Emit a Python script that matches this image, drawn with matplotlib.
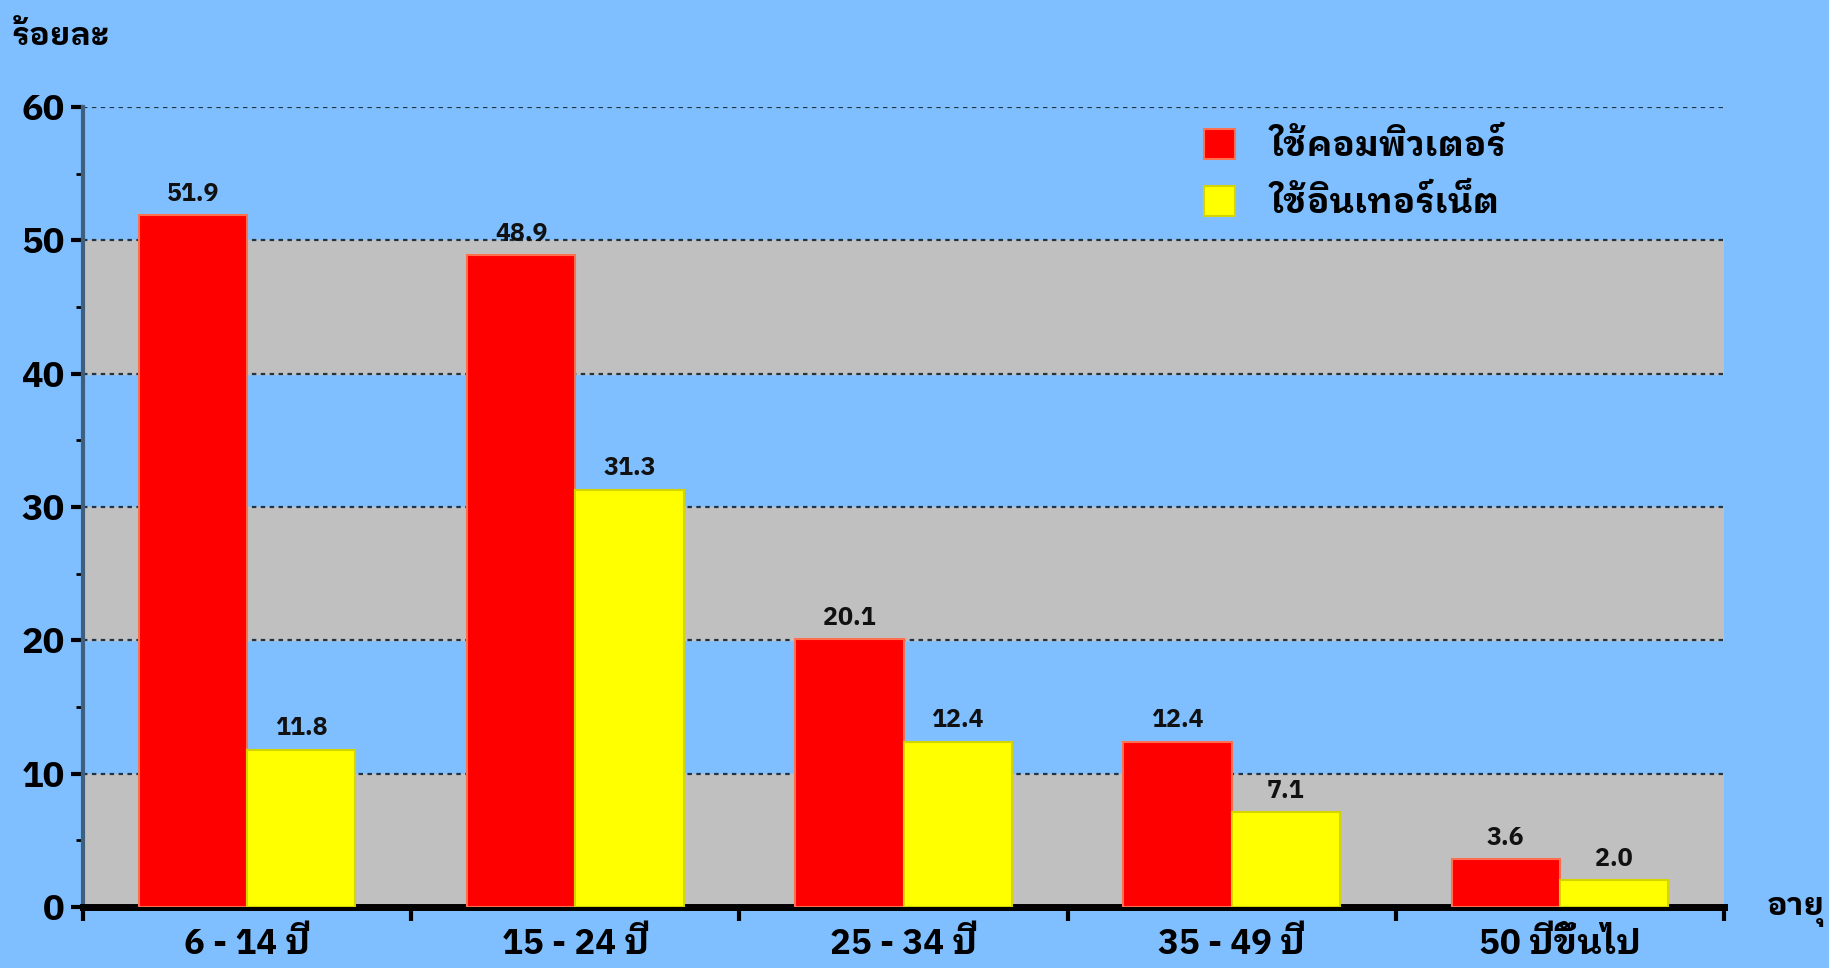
import matplotlib
matplotlib.use("Agg")
import matplotlib.pyplot as plt
import numpy as np
from matplotlib import font_manager
from matplotlib.ticker import MultipleLocator

# data
age_groups = ["6 - 14 ปี", "15 - 24 ปี", "25 - 34 ปี", "35 - 49 ปี", "50 ปีขึ้นไป"]
computer_pct = [51.9, 48.9, 20.1, 12.4, 3.6]
internet_pct = [11.8, 31.3, 12.4, 7.1, 2.0]
series_names = ["ใช้คอมพิวเตอร์", "ใช้อินเทอร์เน็ต"]
y_ticks = [0, 10, 20, 30, 40, 50, 60]

# pick a looped Thai face (closest to the Tahoma look of the original)
installed = {f.name for f in font_manager.fontManager.ttflist}
thai_family = "DejaVu Sans"
for name in ["IBM Plex Sans Thai Looped", "Noto Sans Thai Looped", "Noto Sans Thai",
             "Sarabun", "Anuphan"]:
    if name in installed:
        thai_family = name
        break
plt.rcParams["font.family"] = [thai_family, "DejaVu Sans"]

bg = "#80BFFF"
fig = plt.figure(figsize=(18.29, 9.68), dpi=100, facecolor=bg)
ax = fig.add_axes([0.0454, 0.063, 0.8972, 0.8265])
ax.set_facecolor(bg)

for lo in (0, 20, 40):
    ax.axhspan(lo, lo + 10, color="#C0C0C0", zorder=0)

x = np.arange(len(age_groups))
w = 0.33
b1 = ax.bar(x - 0.165, computer_pct, w, color="#FF0000", edgecolor="#FF7050",
            linewidth=1.5, label=series_names[0], zorder=3)
b2 = ax.bar(x + 0.165, internet_pct, w, color="#FFFF00", edgecolor="#D4D400",
            linewidth=1.5, label=series_names[1], zorder=3)

for bars, vals in ((b1, computer_pct), (b2, internet_pct)):
    for rect, v in zip(bars, vals):
        ax.text(rect.get_x() + rect.get_width() / 2, v + 0.7, f"{v:.1f}",
                ha="center", va="bottom", fontsize=18, fontweight="bold",
                color="#111111", zorder=4)

ax.set_xlim(-0.5, len(age_groups) - 0.5)
ax.set_ylim(0, 60)
ax.set_yticks(y_ticks)
ax.yaxis.set_minor_locator(MultipleLocator(5))
ax.yaxis.grid(True, which="major", linestyle=(0, (2, 2)), color="#223344",
              linewidth=1.6, zorder=1)
ax.set_axisbelow(True)

# category labels at centres, tick marks at the boundaries
ax.set_xticks(np.arange(len(age_groups) + 1) - 0.5)
ax.set_xticklabels([])
ax.set_xticks(x, minor=True)
ax.set_xticklabels(age_groups, minor=True, fontsize=25, fontweight="bold")
ax.tick_params(axis="x", which="major", length=10, width=3, direction="out")
ax.tick_params(axis="x", which="minor", length=0, pad=15)
ax.tick_params(axis="y", which="major", length=9, width=3, labelsize=26, pad=4)
ax.tick_params(axis="y", which="minor", length=5, width=2)
for lab in ax.get_yticklabels():
    lab.set_fontweight("bold")

for side in ("top", "right"):
    ax.spines[side].set_visible(False)
ax.spines["left"].set_color("#3F5F7F")
ax.spines["left"].set_linewidth(3)
ax.spines["bottom"].set_color("black")
ax.spines["bottom"].set_linewidth(5)

ax.legend(loc="upper left", bbox_to_anchor=(0.664, 1.012), frameon=False,
          prop={"size": 25, "weight": "bold"}, handlelength=0.9,
          handleheight=0.95, handletextpad=1.0, labelspacing=0.62)

fig.text(0.006, 0.963, "ร้อยละ", fontsize=23, fontweight="bold", va="center")
fig.text(0.966, 0.058, "อายุ", fontsize=23, fontweight="bold", va="center")

fig.savefig("out.png", dpi=100, facecolor=bg)
